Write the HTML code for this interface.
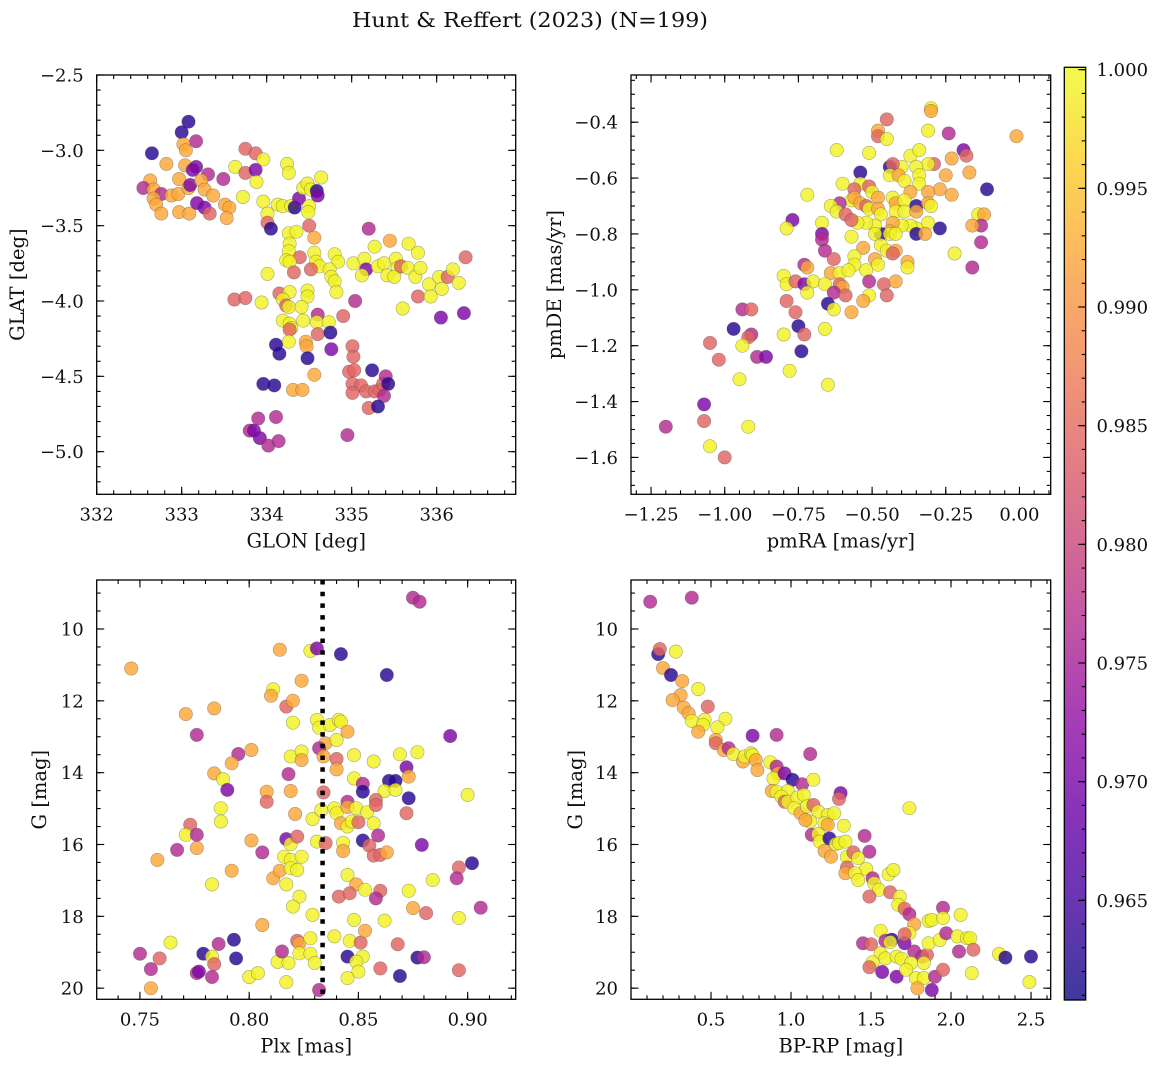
<!DOCTYPE html>
<html><head><meta charset="utf-8">
<style>
html,body{margin:0;padding:0;background:#fff;}
svg{display:block;font-family:"DejaVu Serif","Liberation Serif",serif;}
</style></head>
<body>
<svg id="fig" width="1161" height="1067" viewBox="0 0 1161 1067" xmlns="http://www.w3.org/2000/svg">
<text x="530" y="27" text-anchor="middle" font-size="20.5" textLength="356" lengthAdjust="spacingAndGlyphs" fill="#111">Hunt &amp; Reffert (2023) (N=199)</text>
</svg>
<script>
// ---------------- DATA ----------------
// Panel 1: GLON / GLAT
const p1Lon=[333.08,333.00,333.17,333.02,333.05,332.65,332.82,333.04,333.17,333.13,
333.31,332.97,332.63,333.49,332.55,332.67,332.76,332.88,332.96,333.08,
333.10,333.23,333.27,333.37,332.67,332.70,332.76,332.97,333.09,333.18,
333.27,333.33,333.51,333.56,333.53,333.75,333.87,333.96,333.63,333.75,
333.87,333.88,333.72,333.96,334.01,334.01,334.05,334.13,334.19,334.29,
334.33,334.24,334.26,334.38,334.43,334.48,334.52,334.59,334.60,334.50,
334.49,334.64,334.50,334.26,334.35,334.27,334.26,334.56,334.39,334.23,
334.27,334.56,334.58,334.62,334.32,334.52,334.01,334.80,334.84,334.74,
334.76,334.80,334.82,334.15,334.27,334.19,334.23,334.48,334.48,333.62,
333.75,333.94,334.26,334.41,334.60,334.19,334.27,334.29,334.43,334.59,
334.73,334.27,334.60,334.75,334.26,334.11,334.15,334.46,334.47,334.48,
334.76,334.90,335.04,335.02,335.15,335.17,335.12,335.20,335.27,335.45,
335.31,335.38,335.42,335.52,335.54,335.50,335.58,335.67,335.78,335.66,
335.75,335.81,335.78,335.60,335.91,335.93,336.03,336.06,336.13,336.19,
336.26,336.34,336.32,336.05,335.01,335.02,334.97,335.03,335.24,335.01,
335.11,335.17,335.27,335.33,335.37,335.40,335.43,335.38,335.01,335.20,
335.31,334.56,334.31,334.42,333.96,334.09,333.90,334.11,333.80,333.85,
333.92,334.02,334.14,334.95];
const p1Lat=[-2.81,-2.88,-2.94,-2.96,-3.00,-3.02,-3.09,-3.10,-3.11,-3.13,
-3.16,-3.19,-3.20,-3.19,-3.25,-3.26,-3.29,-3.30,-3.29,-3.25,
-3.23,-3.20,-3.26,-3.30,-3.32,-3.36,-3.42,-3.41,-3.42,-3.35,
-3.38,-3.42,-3.36,-3.38,-3.45,-2.99,-3.02,-3.06,-3.11,-3.15,
-3.13,-3.21,-3.31,-3.34,-3.42,-3.48,-3.52,-3.36,-3.37,-3.37,
-3.38,-3.09,-3.15,-3.32,-3.25,-3.22,-3.26,-3.27,-3.30,-3.37,
-3.41,-3.18,-3.50,-3.55,-3.54,-3.62,-3.67,-3.58,-3.71,-3.73,
-3.74,-3.68,-3.74,-3.77,-3.81,-3.79,-3.82,-3.69,-3.74,-3.79,
-3.84,-3.87,-3.94,-3.95,-3.94,-3.99,-4.03,-3.93,-3.97,-3.99,
-3.98,-4.01,-4.04,-4.04,-4.09,-4.13,-4.15,-4.18,-4.13,-4.14,
-4.14,-4.19,-4.22,-4.21,-4.27,-4.29,-4.35,-4.27,-4.30,-4.38,
-4.32,-4.10,-4.00,-3.75,-3.72,-3.79,-3.83,-3.52,-3.64,-3.60,
-3.77,-3.75,-3.83,-3.72,-3.78,-3.84,-3.77,-3.62,-3.68,-3.78,
-3.84,-3.78,-3.97,-4.05,-3.89,-3.97,-3.84,-3.92,-3.84,-3.79,
-3.88,-3.71,-4.08,-4.11,-4.30,-4.37,-4.47,-4.46,-4.46,-4.55,
-4.56,-4.60,-4.60,-4.59,-4.55,-4.50,-4.55,-4.63,-4.61,-4.71,
-4.70,-4.49,-4.59,-4.59,-4.55,-4.56,-4.78,-4.77,-4.86,-4.86,
-4.91,-4.96,-4.93,-4.89];
const p1Prob=[.9628,.9628,.9765,.9922,.9922,.9628,.9922,.9922,.9706,.9706,
.9765,.9922,.9922,.9765,.9765,.9922,.9765,.9922,.9922,.9922,
.9706,.9922,.9922,.9922,.9922,.9922,.9922,.9922,.9922,.9706,
.9706,.9844,.9922,.9922,.9922,.9844,.9844,.9995,.9995,.9844,
.9706,.9995,.9995,.9995,.9995,.9844,.9628,.9995,.9995,.9995,
.9628,.9995,.9995,.9706,.9995,.9995,.9995,.9628,.9706,.9995,
.9995,.9995,.9844,.9995,.9995,.9995,.9995,.9922,.9844,.9995,
.9995,.9995,.9995,.9995,.9844,.9844,.9995,.9995,.9995,.9995,
.9995,.9995,.9995,.9844,.9995,.9995,.9844,.9995,.9995,.9844,
.9844,.9995,.9995,.9995,.9765,.9995,.9995,.9995,.9995,.9995,
.9995,.9844,.9844,.9628,.9995,.9628,.9628,.9922,.9922,.9628,
.9706,.9844,.9765,.9995,.9995,.9706,.9995,.9765,.9995,.9922,
.9995,.9995,.9995,.9995,.9995,.9995,.9844,.9995,.9995,.9995,
.9995,.9995,.9844,.9995,.9995,.9995,.9995,.9995,.9844,.9995,
.9995,.9844,.9706,.9706,.9844,.9844,.9844,.9844,.9628,.9844,
.9844,.9844,.9844,.9844,.9844,.9765,.9628,.9765,.9844,.9844,
.9628,.9922,.9922,.9922,.9628,.9628,.9765,.9765,.9765,.9706,
.9706,.9765,.9765,.9765];

// Panel 2: pmRA / pmDE
const p2PmRA=[-0.30,-0.30,-0.45,-0.48,-0.48,-0.45,-0.31,-0.24,-0.01,-0.62,
-0.51,-0.37,-0.34,-0.19,-0.18,-0.23,-0.29,-0.31,-0.35,-0.40,
-0.44,-0.43,-0.17,-0.25,-0.54,-0.54,-0.44,-0.41,-0.39,-0.34,
-0.34,-0.60,-0.11,-0.27,-0.23,-0.31,-0.37,-0.72,-0.56,-0.51,
-0.50,-0.48,-0.43,-0.42,-0.39,-0.57,-0.56,-0.61,-0.64,-0.62,
-0.59,-0.54,-0.52,-0.51,-0.48,-0.47,-0.42,-0.39,-0.35,-0.35,
-0.31,-0.30,-0.14,-0.12,-0.13,-0.16,-0.27,-0.31,-0.35,-0.37,
-0.40,-0.43,-0.44,-0.47,-0.49,-0.52,-0.55,-0.57,-0.67,-0.77,
-0.79,-0.67,-0.67,-0.57,-0.49,-0.44,-0.42,-0.35,-0.32,-0.13,
-0.22,-0.66,-0.53,-0.47,-0.45,-0.42,-0.43,-0.56,-0.63,-0.73,
-0.72,-0.56,-0.49,-0.48,-0.38,-0.38,-0.16,-0.64,-0.61,-0.58,
-0.52,-0.80,-0.79,-0.76,-0.73,-0.70,-0.66,-0.61,-0.60,-0.63,
-0.59,-0.72,-0.51,-0.46,-0.42,-0.45,-0.51,-0.53,-0.65,-0.63,
-0.57,-0.79,-0.76,-0.94,-0.91,-0.97,-0.91,-0.92,-0.94,-0.75,
-0.73,-0.80,-0.66,-0.74,-1.05,-1.02,-0.89,-0.86,-0.78,-0.95,
-0.65,-1.07,-1.07,-1.20,-0.92,-1.05,-1.00];
const p2PmDE=[-0.35,-0.36,-0.39,-0.43,-0.45,-0.46,-0.43,-0.44,-0.45,-0.50,
-0.51,-0.52,-0.50,-0.50,-0.52,-0.53,-0.55,-0.55,-0.56,-0.56,
-0.56,-0.55,-0.58,-0.59,-0.58,-0.62,-0.59,-0.59,-0.61,-0.59,
-0.62,-0.62,-0.64,-0.64,-0.66,-0.65,-0.65,-0.66,-0.64,-0.63,
-0.65,-0.67,-0.67,-0.69,-0.68,-0.68,-0.67,-0.69,-0.70,-0.72,
-0.73,-0.69,-0.70,-0.71,-0.71,-0.73,-0.72,-0.72,-0.70,-0.72,
-0.69,-0.70,-0.73,-0.73,-0.77,-0.77,-0.78,-0.76,-0.78,-0.77,
-0.77,-0.76,-0.79,-0.80,-0.77,-0.76,-0.76,-0.75,-0.76,-0.75,
-0.78,-0.80,-0.82,-0.81,-0.80,-0.80,-0.80,-0.80,-0.80,-0.83,
-0.87,-0.86,-0.85,-0.84,-0.86,-0.86,-0.87,-0.88,-0.89,-0.91,
-0.92,-0.91,-0.89,-0.91,-0.90,-0.92,-0.92,-0.94,-0.94,-0.93,
-0.93,-0.95,-0.98,-0.97,-0.98,-0.97,-0.98,-0.98,-0.99,-1.01,
-1.02,-1.01,-0.97,-0.98,-0.97,-1.02,-1.02,-1.04,-1.05,-1.07,
-1.08,-1.04,-1.08,-1.07,-1.07,-1.14,-1.16,-1.17,-1.20,-1.13,
-1.16,-1.16,-1.14,-1.22,-1.19,-1.25,-1.24,-1.24,-1.29,-1.32,
-1.34,-1.41,-1.47,-1.49,-1.49,-1.56,-1.60];
const p2Prob=[.9995,.9922,.9844,.9922,.9844,.9995,.9995,.9765,.9922,.9995,
.9995,.9995,.9995,.9706,.9844,.9922,.9844,.9995,.9995,.9995,
.9628,.9844,.9922,.9922,.9628,.9995,.9995,.9922,.9995,.9995,
.9995,.9995,.9628,.9922,.9922,.9922,.9922,.9995,.9844,.9844,
.9995,.9922,.9995,.9922,.9995,.9995,.9922,.9765,.9995,.9995,
.9844,.9922,.9844,.9995,.9922,.9995,.9995,.9995,.9628,.9922,
.9922,.9995,.9995,.9922,.9765,.9922,.9628,.9995,.9995,.9995,
.9995,.9922,.9922,.9628,.9995,.9995,.9995,.9844,.9995,.9706,
.9995,.9706,.9765,.9995,.9995,.9995,.9995,.9628,.9922,.9765,
.9995,.9765,.9922,.9995,.9995,.9922,.9844,.9995,.9844,.9765,
.9922,.9995,.9922,.9995,.9922,.9995,.9765,.9922,.9995,.9995,
.9995,.9995,.9995,.9844,.9706,.9995,.9995,.9844,.9922,.9765,
.9844,.9995,.9765,.9844,.9922,.9844,.9995,.9922,.9628,.9995,
.9922,.9844,.9844,.9765,.9844,.9628,.9765,.9844,.9995,.9628,
.9844,.9995,.9995,.9628,.9844,.9844,.9765,.9706,.9995,.9995,
.9995,.9706,.9844,.9765,.9995,.9995,.9844];

// Panel 3: Plx / G
const p3Plx=[.875,.878,.814,.828,.831,.842,.746,.863,.824,.811,
.810,.817,.820,.771,.784,.820,.831,.832,.837,.841,
.842,.845,.835,.840,.776,.892,.801,.795,.819,.824,
.824,.832,.834,.840,.840,.848,.857,.869,.877,.792,
.784,.788,.818,.872,.873,.790,.808,.819,.834,.848,
.852,.852,.864,.867,.862,.867,.873,.900,.808,.787,
.787,.821,.829,.833,.839,.840,.845,.845,.849,.854,
.858,.858,.842,.845,.847,.850,.857,.872,.773,.771,
.776,.776,.767,.758,.801,.806,.817,.819,.822,.831,
.835,.843,.843,.852,.855,.859,.857,.860,.863,.879,
.816,.819,.824,.792,.811,.814,.819,.822,.817,.783,
.845,.849,.853,.860,.858,.841,.846,.823,.820,.829,
.873,.875,.881,.884,.896,.895,.902,.906,.806,.848,
.862,.896,.750,.755,.759,.764,.779,.783,.784,.786,
.793,.794,.776,.777,.783,.800,.804,.817,.813,.818,
.815,.822,.823,.823,.828,.828,.830,.832,.839,.845,
.846,.851,.853,.852,.849,.850,.845,.860,.868,.869,
.877,.880,.896,.755];
const p3G=[9.13,9.24,10.58,10.61,10.54,10.70,11.10,11.28,11.44,11.68,
11.86,12.16,12.00,12.37,12.21,12.61,12.53,12.75,12.67,12.53,
12.58,12.86,13.18,13.09,12.95,12.98,13.37,13.48,13.55,13.41,
13.65,13.32,13.55,13.62,13.91,13.51,13.69,13.49,13.43,13.74,
14.02,14.18,14.04,13.85,14.11,14.48,14.53,14.51,14.55,14.16,
14.31,14.53,14.23,14.23,14.51,14.48,14.71,14.62,14.81,14.99,
15.36,15.15,15.29,15.04,14.99,15.13,14.81,14.96,14.99,15.10,
14.76,14.90,15.41,15.50,15.36,15.38,15.41,15.13,15.45,15.73,
15.73,16.10,16.15,16.43,15.89,16.22,15.85,15.99,15.78,15.92,
15.96,15.95,16.18,15.89,16.03,15.75,16.31,16.29,16.22,16.01,
16.34,16.43,16.34,16.73,16.94,16.73,16.66,16.71,17.11,17.11,
16.85,17.11,17.26,17.29,17.50,17.45,17.36,17.45,17.73,17.96,
17.29,17.77,17.91,16.99,16.64,16.94,16.52,17.76,18.24,18.10,
18.12,18.05,19.04,19.47,19.17,18.73,19.04,19.12,19.33,18.77,
18.65,19.17,19.58,19.54,19.69,19.69,19.58,19.83,19.27,19.30,
18.98,18.68,18.75,19.03,18.61,19.04,19.30,20.05,18.56,19.12,
18.68,18.73,18.40,19.12,19.26,19.54,19.72,19.45,18.78,19.66,
19.15,19.14,19.50,20.00];
const p3Prob=[.9765,.9765,.9922,.9995,.9706,.9628,.9922,.9628,.9922,.9995,
.9922,.9844,.9922,.9922,.9922,.9995,.9995,.9995,.9995,.9995,
.9995,.9922,.9922,.9995,.9765,.9706,.9922,.9765,.9995,.9995,
.9922,.9765,.9922,.9844,.9922,.9995,.9995,.9995,.9995,.9922,
.9922,.9995,.9765,.9706,.9922,.9706,.9922,.9922,.9844,.9995,
.9765,.9628,.9628,.9628,.9995,.9995,.9628,.9995,.9844,.9995,
.9995,.9922,.9995,.9995,.9995,.9995,.9765,.9922,.9995,.9995,
.9844,.9844,.9922,.9995,.9995,.9844,.9995,.9844,.9844,.9995,
.9765,.9922,.9765,.9922,.9922,.9765,.9706,.9995,.9844,.9995,
.9844,.9995,.9922,.9628,.9844,.9765,.9844,.9844,.9922,.9706,
.9995,.9995,.9995,.9922,.9922,.9922,.9995,.9995,.9995,.9995,
.9995,.9922,.9995,.9844,.9765,.9844,.9844,.9995,.9995,.9995,
.9995,.9922,.9844,.9995,.9844,.9765,.9628,.9765,.9922,.9995,
.9995,.9995,.9765,.9765,.9844,.9995,.9628,.9995,.9844,.9765,
.9628,.9628,.9765,.9706,.9765,.9995,.9995,.9995,.9995,.9995,
.9765,.9844,.9922,.9995,.9995,.9995,.9995,.9765,.9995,.9628,
.9995,.9844,.9922,.9995,.9995,.9995,.9995,.9844,.9844,.9628,
.9628,.9765,.9844,.9922];
const plxMedian=0.8336;

// Panel 4: BP-RP / G
const p4BpRp=[0.12,0.38,0.17,0.18,0.28,0.20,0.25,0.32,0.42,0.31,
0.26,0.33,0.48,0.36,0.38,0.46,0.45,0.59,0.54,0.42,
0.53,0.53,0.58,0.61,0.64,0.70,0.71,0.75,0.76,0.78,
0.76,0.91,0.79,0.87,0.91,0.92,0.89,0.96,1.01,1.07,
1.12,1.14,0.88,0.91,0.98,0.94,0.96,0.98,1.04,1.08,
1.02,1.06,1.10,1.14,1.17,1.12,1.13,1.09,1.23,1.27,
1.21,1.23,1.31,1.30,1.33,1.17,1.18,1.24,1.28,1.30,
1.34,1.21,1.25,1.46,1.49,1.35,1.39,1.42,1.47,1.35,
1.34,1.40,1.42,1.74,1.51,1.52,1.55,1.49,1.61,1.64,
1.62,1.68,1.67,1.71,1.74,1.77,1.74,1.56,1.45,1.50,
1.59,1.63,1.62,1.71,1.71,1.56,1.59,1.66,1.69,1.77,
1.82,1.85,1.83,1.75,1.51,1.49,1.57,1.66,1.72,1.78,
1.83,1.79,1.88,1.90,1.95,1.86,1.93,1.86,1.88,1.95,
1.95,2.06,1.97,2.04,2.10,2.12,2.05,2.14,2.13,2.30,
2.34,2.50,2.49];
const p4G=[9.24,9.13,10.70,10.56,10.63,11.09,11.28,11.45,11.67,11.84,
11.98,12.19,12.16,12.35,12.56,12.53,12.67,12.50,12.74,12.86,
13.09,13.18,13.37,13.32,13.48,13.69,13.55,13.46,13.51,13.65,
12.97,12.95,13.93,13.71,13.83,14.02,14.16,14.02,14.20,14.32,
13.48,14.20,14.51,14.53,14.51,14.67,14.81,14.81,14.69,14.62,
14.99,15.13,14.94,14.90,15.08,15.36,15.73,15.32,15.18,15.13,
15.41,15.45,14.57,14.73,15.48,15.71,15.92,15.83,15.99,15.96,
15.92,16.18,16.34,15.76,16.20,16.34,16.22,16.38,16.68,16.64,
16.80,16.80,16.99,14.99,16.94,17.08,17.26,17.45,16.83,16.71,
17.33,17.45,17.68,17.79,17.94,18.22,18.47,18.40,18.75,18.78,
18.68,18.65,18.72,18.75,18.50,19.03,19.17,19.12,19.18,18.98,
19.12,19.07,19.30,19.30,19.28,19.42,19.55,19.68,19.49,19.72,
19.72,20.00,20.05,19.68,19.49,18.75,18.66,18.13,18.10,17.76,
18.05,17.96,18.47,18.56,18.61,18.61,18.98,18.93,19.58,19.05,
19.15,19.12,19.83];
const p4Prob=[.9765,.9765,.9628,.9844,.9995,.9922,.9628,.9922,.9995,.9922,
.9922,.9922,.9844,.9922,.9995,.9995,.9995,.9995,.9995,.9922,
.9922,.9844,.9922,.9765,.9995,.9922,.9995,.9995,.9995,.9922,
.9706,.9765,.9922,.9995,.9765,.9922,.9995,.9706,.9628,.9765,
.9765,.9995,.9922,.9995,.9995,.9995,.9844,.9995,.9995,.9995,
.9995,.9922,.9995,.9844,.9995,.9995,.9765,.9922,.9995,.9995,
.9995,.9922,.9706,.9844,.9995,.9995,.9995,.9628,.9995,.9995,
.9995,.9922,.9922,.9765,.9765,.9995,.9844,.9995,.9995,.9844,
.9922,.9995,.9995,.9995,.9765,.9995,.9995,.9844,.9995,.9995,
.9844,.9995,.9995,.9844,.9765,.9922,.9995,.9995,.9765,.9844,
.9765,.9628,.9995,.9706,.9844,.9995,.9995,.9995,.9995,.9765,
.9765,.9844,.9995,.9995,.9995,.9844,.9706,.9706,.9995,.9995,
.9995,.9922,.9706,.9765,.9844,.9995,.9995,.9995,.9995,.9765,
.9995,.9995,.9765,.9995,.9995,.9995,.9765,.9844,.9995,.9995,
.9628,.9628,.9995];

// Tick label arrays
const p1XTicks=[332,333,334,335,336];
const p1YTicks=[-2.5,-3.0,-3.5,-4.0,-4.5,-5.0];
const p2XTicks=[-1.25,-1.00,-0.75,-0.50,-0.25,0.00];
const p2YTicks=[-0.4,-0.6,-0.8,-1.0,-1.2,-1.4,-1.6];
const p3XTicks=[0.75,0.80,0.85,0.90];
const gTicks=[10,12,14,16,18,20];
const p4XTicks=[0.5,1.0,1.5,2.0,2.5];
const cbTicks=[0.965,0.970,0.975,0.980,0.985,0.990,0.995,1.000];
const cbMin=0.9608, cbMax=1.0001;

// ---------------- RENDER ----------------
const NS="http://www.w3.org/2000/svg";
const svg=document.getElementById('fig');
function mk(tag,attrs,parent){const e=document.createElementNS(NS,tag);for(const k in attrs)e.setAttribute(k,attrs[k]);(parent||svg).appendChild(e);return e;}
const plasmaStops=["#0d0887","#41049d","#6a00a8","#8f0da4","#b12a90","#cc4778","#e16462","#f2844b","#fca636","#fcce25","#f0f921"];
function hex2rgb(h){return [parseInt(h.substr(1,2),16),parseInt(h.substr(3,2),16),parseInt(h.substr(5,2),16)];}
function plasma(t){t=Math.max(0,Math.min(1,t));const f=t*10,i=Math.min(9,Math.floor(f)),r=f-i;const a=hex2rgb(plasmaStops[i]),b=hex2rgb(plasmaStops[i+1]);return 'rgb('+a.map((v,k)=>Math.round(v+(b[k]-v)*r)).join(',')+')';}
function cmap(p){return plasma((p-cbMin)/(cbMax-cbMin));}
function fmt(v,d){return v.toFixed(d).replace('-','\u2212');}

function panel(o){
  const sx=v=>o.x0+(v-o.xmin)/(o.xmax-o.xmin)*(o.x1-o.x0);
  const sy=o.yinv? v=>o.y0+(v-o.ymin)/(o.ymax-o.ymin)*(o.y1-o.y0) : v=>o.y1-(v-o.ymin)/(o.ymax-o.ymin)*(o.y1-o.y0);
  const g=mk('g',{});
  
  
  const cp='clip-'+o.name;
  const cl=mk('clipPath',{id:cp},g);mk('rect',{x:o.x0,y:o.y0,width:o.x1-o.x0,height:o.y1-o.y0},cl);
  const pts=mk('g',{'clip-path':'url(#'+cp+')'},g);
  
  
  for(let i=0;i<o.xs.length;i++){
    const c=mk('circle',{cx:sx(o.xs[i]).toFixed(1),cy:sy(o.ys[i]).toFixed(1),r:6.7,fill:cmap(o.cs[i]),'fill-opacity':0.82,stroke:'rgba(70,70,70,0.45)','stroke-width':0.6},pts);
    
    
  }
  if(o.vline!==undefined){
    const l=mk('line',{x1:sx(o.vline),x2:sx(o.vline),y1:o.y0,y2:o.y1,stroke:'#000','stroke-width':4.5,'stroke-dasharray':'4.5 7.2'},g);
    
    
  }
  const fr=mk('rect',{x:o.x0,y:o.y0,width:o.x1-o.x0,height:o.y1-o.y0,fill:'none',stroke:'#000','stroke-width':1.3},g);
  
  
  const tk=mk('g',{stroke:'#000','stroke-width':1.1},g);
  const lo=Math.min(o.xmin,o.xmax),hi=Math.max(o.xmin,o.xmax);
  for(let k=Math.ceil(lo/o.xminor-1e-6);k*o.xminor<=hi+1e-9;k++){const v=k*o.xminor,x=sx(v);
    mk('line',{x1:x,x2:x,y1:o.y1,y2:o.y1-4},tk);mk('line',{x1:x,x2:x,y1:o.y0,y2:o.y0+4},tk);}
  const ylo=Math.min(o.ymin,o.ymax),yhi=Math.max(o.ymin,o.ymax);
  for(let k=Math.ceil(ylo/o.yminor-1e-6);k*o.yminor<=yhi+1e-9;k++){const v=k*o.yminor,y=sy(v);
    mk('line',{x1:o.x0,x2:o.x0+4,y1:y,y2:y},tk);mk('line',{x1:o.x1,x2:o.x1-4,y1:y,y2:y},tk);}
  o.xticks.forEach(v=>{const x=sx(v);
    mk('line',{x1:x,x2:x,y1:o.y1,y2:o.y1-7.5},tk);mk('line',{x1:x,x2:x,y1:o.y0,y2:o.y0+7.5},tk);
    const t=mk('text',{x:x,y:o.y1+26,'text-anchor':'middle','font-size':18,fill:'#111'},g);t.textContent=fmt(v,o.xdec);
    
    });
  o.yticks.forEach(v=>{const y=sy(v);
    mk('line',{x1:o.x0,x2:o.x0+7.5,y1:y,y2:y},tk);mk('line',{x1:o.x1,x2:o.x1-7.5,y1:y,y2:y},tk);
    const t=mk('text',{x:o.x0-13,y:y+6.5,'text-anchor':'end','font-size':18,fill:'#111'},g);t.textContent=fmt(v,o.ydec);
    
    });
  const xl=mk('text',{x:(o.x0+o.x1)/2,y:o.y1+53,'text-anchor':'middle','font-size':19.5,fill:'#111'},g);xl.textContent=o.xlabel;
  
  
  const yl=mk('text',{x:0,y:0,'text-anchor':'middle','font-size':19.5,fill:'#111',transform:'translate('+o.ylabx+','+((o.y0+o.y1)/2)+') rotate(-90)'},g);yl.textContent=o.ylabel;
  
  
}

panel({name:'glon-glat-panel',x0:96.7,x1:515.7,y0:75,y1:494.3,xmin:332,xmax:336.93,ymin:-5.283,ymax:-2.5,
  xs:p1Lon,ys:p1Lat,cs:p1Prob,xticks:p1XTicks,yticks:p1YTicks,xminor:0.2,yminor:0.1,xdec:0,ydec:1,
  xlabel:'GLON [deg]',ylabel:'GLAT [deg]',ylabx:24});
panel({name:'proper-motion-panel',x0:631,x1:1050.7,y0:75,y1:494.3,xmin:-1.318,xmax:0.106,ymin:-1.732,ymax:-0.231,
  xs:p2PmRA,ys:p2PmDE,cs:p2Prob,xticks:p2XTicks,yticks:p2YTicks,xminor:0.05,yminor:0.05,xdec:2,ydec:1,
  xlabel:'pmRA [mas/yr]',ylabel:'pmDE [mas/yr]',ylabx:561});
panel({name:'parallax-magnitude-panel',x0:96.7,x1:515.7,y0:580,y1:999.3,xmin:0.7302,xmax:0.922,ymin:8.636,ymax:20.31,yinv:true,
  xs:p3Plx,ys:p3G,cs:p3Prob,xticks:p3XTicks,yticks:gTicks,xminor:0.01,yminor:0.5,xdec:2,ydec:0,
  xlabel:'Plx [mas]',ylabel:'G [mag]',ylabx:46,vline:plxMedian});
panel({name:'color-magnitude-panel',x0:631,x1:1050.7,y0:580,y1:999.3,xmin:0.0,xmax:2.623,ymin:8.636,ymax:20.31,yinv:true,
  xs:p4BpRp,ys:p4G,cs:p4Prob,xticks:p4XTicks,yticks:gTicks,xminor:0.1,yminor:0.5,xdec:1,ydec:0,
  xlabel:'BP-RP [mag]',ylabel:'G [mag]',ylabx:582});

// Colorbar
(function(){
  const x0=1064.3,x1=1085.7,y0=67.3,y1=1000;
  const sy=v=>y1-(v-cbMin)/(cbMax-cbMin)*(y1-y0);
  const g=mk('g',{});
  
  
  const defs=mk('defs',{},g);
  const lg=mk('linearGradient',{id:'plasmaGrad',x1:0,y1:1,x2:0,y2:0},defs);
  plasmaStops.forEach((c,i)=>mk('stop',{offset:(i/10),'stop-color':c},lg));
  mk('rect',{x:x0,y:y0,width:x1-x0,height:y1-y0,fill:'url(#plasmaGrad)','fill-opacity':0.8},g);
  mk('rect',{x:x0,y:y0,width:x1-x0,height:y1-y0,fill:'none',stroke:'#000','stroke-width':1.3},g);
  const tk=mk('g',{stroke:'#000','stroke-width':1.1},g);
  for(let k=Math.ceil(cbMin/0.001);k*0.001<=cbMax;k++){const y=sy(k*0.001);mk('line',{x1:x1,x2:x1-4,y1:y,y2:y},tk);}
  cbTicks.forEach(v=>{const y=sy(v);mk('line',{x1:x1,x2:x1-7.5,y1:y,y2:y},tk);
    const t=mk('text',{x:1096.5,y:y+6.5,'font-size':18,fill:'#111'},g);t.textContent=v.toFixed(3);
    
    });
})();
</script>
</body></html>
